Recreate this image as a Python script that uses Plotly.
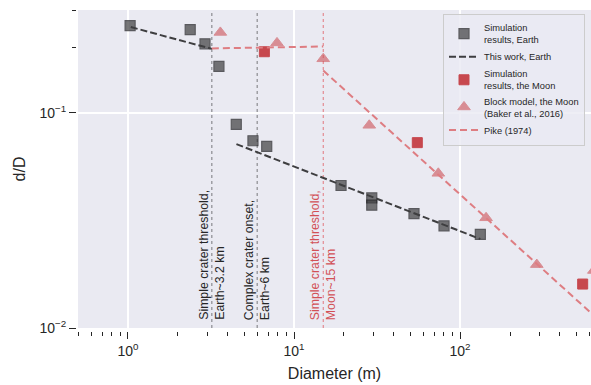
import numpy as np
import plotly.graph_objects as go

# ---- data ----
earth_sim_D = [1.03, 2.37, 2.91, 3.53, 4.49, 5.66, 6.85, 19.2, 29.4, 29.4, 52.8, 80.1, 132.5]
earth_sim_dD = [0.254, 0.243, 0.209, 0.164, 0.0883, 0.0741, 0.0698, 0.0459, 0.0402, 0.0372, 0.034, 0.0298, 0.0272]

earth_fit_D = [1.04, 3.2, None, 4.5, 132.5]
earth_fit_dD = [0.25, 0.198, None, 0.0715, 0.0259]

moon_sim_D = [6.63, 55.3, 548]
moon_sim_dD = [0.192, 0.0726, 0.016]

baker_D = [3.6, 7.9, 15.0, 28.4, 74, 143.5, 290, 640]
baker_dD = [0.236, 0.211, 0.178, 0.0874, 0.0523, 0.0325, 0.0197, 0.0185]

pike_D = [3.2, 15, None, 15, 650]
pike_dD = [0.199, 0.203, None, 0.157, 0.0113]

thresholds_D = [3.2, 6, 15]
threshold_labels = ["Simple crater threshold,<br>Earth~3.2 km",
                    "Complex crater onset,<br>Earth~6 km",
                    "Simple crater threshold,<br>Moon~15 km"]
threshold_is_moon = [False, False, True]

x_tickvals = [1, 10, 100]
x_ticktext = ["10<sup>0</sup>", "10<sup>1</sup>", "10<sup>2</sup>"]
y_tickvals = [0.01, 0.1]
y_ticktext = ["10<sup>\u22122</sup>", "10<sup>\u22121</sup>"]

x_range = [0.5, 615]
y_range = [0.01, 0.3]

# ---- styles ----
BG = "#EAEAF2"
DARK = "#262626"
RED = "rgb(199,72,78)"
RED_LINE = "rgb(222,125,130)"
FONT = "Liberation Sans, Arial, sans-serif"

W, H = 591, 385
ml, mr, mt, mb = 76, 0, 10, 54
pw = W - ml - mr
ph = H - mt - mb
gapx, gapy = 2, 3

fig = go.Figure()

fig.add_trace(go.Scatter(
    x=earth_sim_D, y=earth_sim_dD, mode="markers",
    name="Simulation<br>results, Earth",
    marker=dict(symbol="square", size=10, color="rgb(62,62,64)", opacity=0.7,
                line=dict(color="rgb(30,30,32)", width=1.2))))

fig.add_trace(go.Scatter(
    x=earth_fit_D, y=earth_fit_dD, mode="lines",
    name="This work, Earth",
    line=dict(color="rgb(62,62,64)", width=2, dash="7px,3px")))

fig.add_trace(go.Scatter(
    x=moon_sim_D, y=moon_sim_dD, mode="markers",
    name="Simulation<br>results, the Moon",
    marker=dict(symbol="square", size=10, color=RED,
                line=dict(color=RED, width=1))))

fig.add_trace(go.Scatter(
    x=baker_D, y=baker_dD, mode="markers",
    name="Block model, the Moon<br>(Baker et al., 2016)",
    marker=dict(symbol="triangle-up", size=11, color="rgb(205,80,86)", opacity=0.6,
                line=dict(color="rgb(205,80,86)", width=1))))

fig.add_trace(go.Scatter(
    x=pike_D, y=pike_dD, mode="lines",
    name="Pike (1974)",
    line=dict(color=RED_LINE, width=2, dash="7px,4px")))

# threshold lines and labels
for xv, lab, moon in zip(thresholds_D, threshold_labels, threshold_is_moon):
    col = "rgb(226,120,126)" if moon else "rgb(120,120,124)"
    fig.add_shape(type="line", xref="x", yref="y domain",
                  x0=xv, x1=xv, y0=0, y1=1,
                  line=dict(color=col, width=1, dash="dot"), layer="below")
    fig.add_annotation(x=np.log10(xv), xref="x", y=0.019, yref="y domain",
                       text=lab, showarrow=False, textangle=-90,
                       xanchor="center", yanchor="bottom", align="left",
                       font=dict(size=12.3, family=FONT,
                                 color="rgb(210,80,86)" if moon else DARK))

minor_vals = [m * 10.0 ** e for e in range(-1, 3) for m in range(2, 10)]

axis_common = dict(
    type="log", showline=False, zeroline=False, automargin=False,
    gridcolor="white", gridwidth=1.5,
    ticks="outside", ticklen=7, tickwidth=1.4, tickcolor=DARK,
    tickmode="array",
    tickfont=dict(size=14, family=FONT, color=DARK),
    minor=dict(ticks="outside", ticklen=4, tickwidth=1, tickcolor=DARK,
               tickmode="array", tickvals=minor_vals, showgrid=False),
    anchor="free", position=0,
)

fig.update_layout(
    width=W, height=H,
    margin=dict(l=ml, r=mr, t=mt, b=mb, autoexpand=False),
    paper_bgcolor="white", plot_bgcolor=BG,
    font=dict(family=FONT, color=DARK),
    showlegend=True,
    legend=dict(x=(443 - ml) / pw, xanchor="left", y=(H - mb - 14) / ph, yanchor="top",
                bgcolor="rgba(234,234,242,0.8)", bordercolor="#cccccc",
                borderwidth=1, font=dict(size=9.3, family=FONT, color=DARK),
                itemwidth=30, tracegroupgap=0),
    xaxis=dict(axis_common, domain=[gapx / pw, 1],
               tickvals=x_tickvals, ticktext=x_ticktext,
               range=[np.log10(x_range[0]), np.log10(x_range[1])],
               title=dict(text="Diameter (m)", font=dict(size=16, family=FONT, color=DARK),
                          standoff=10)),
    yaxis=dict(axis_common, domain=[gapy / ph, 1],
               tickvals=y_tickvals, ticktext=y_ticktext,
               range=[np.log10(y_range[0]), np.log10(y_range[1])],
               title=dict(text="d/D", font=dict(size=16, family=FONT, color=DARK),
                          standoff=8)),
)

fig.write_html("out.html", config={"displayModeBar": False},
               post_script="document.body.style.margin='0';document.body.style.padding='0';")
